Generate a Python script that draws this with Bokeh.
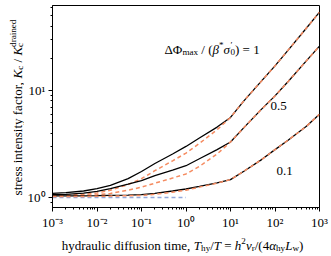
import math
from bokeh.plotting import figure
from bokeh.models import Label, FixedTicker, CustomJSTickFormatter
from bokeh.layouts import row, column
from bokeh.embed import file_html
from bokeh.resources import INLINE

# ---- data ----
t_hy = [1e-3, 2e-3, 5e-3, 1e-2, 2e-2, 5e-2, 0.1, 0.2, 0.5, 1, 2, 5, 10, 20, 50, 100, 200, 500, 1000]

exact_1 = [1.09, 1.11, 1.15, 1.21, 1.30, 1.50, 1.75, 2.08, 2.55, 3.00, 3.60, 4.55, 5.60,
           8.0, 12.3, 17.0, 24.0, 38.0, 54.0]
approx_1 = [1.04, 1.05, 1.07, 1.10, 1.17, 1.32, 1.50, 1.78, 2.20, 2.60, 3.20, 4.30, 5.60,
            8.0, 12.3, 17.0, 24.0, 38.0, 54.0]

exact_05 = [1.06, 1.07, 1.10, 1.14, 1.21, 1.33, 1.44, 1.60, 1.80, 1.98, 2.30, 2.80, 3.30,
            4.5, 6.7, 8.9, 12.2, 18.8, 26.0]
approx_05 = [1.03, 1.035, 1.045, 1.06, 1.09, 1.17, 1.25, 1.36, 1.52, 1.66, 1.95, 2.55, 3.30,
             4.5, 6.7, 8.9, 12.2, 18.8, 26.0]

exact_01 = [1.035, 1.035, 1.037, 1.04, 1.045, 1.053, 1.062, 1.09, 1.15, 1.20, 1.27, 1.37, 1.47,
            1.76, 2.26, 2.8, 3.45, 4.6, 6.0]
approx_01 = [1.02, 1.021, 1.023, 1.026, 1.03, 1.038, 1.047, 1.07, 1.12, 1.17, 1.25, 1.36, 1.47,
             1.76, 2.26, 2.8, 3.45, 4.6, 6.0]

drained_x = [1e-3, 1.0]
drained_y = [1.0, 1.0]

curve_labels = ["1", "0.5", "0.1"]

x_major = [1e-3, 1e-2, 1e-1, 1, 10, 100, 1000]
y_major = [1, 10]

BLACK = "black"
ORANGE = "#f58b60"
BLUE = "#93a9da"
FONT = "Liberation Serif"

p = figure(width=307, height=232, x_axis_type="log", y_axis_type="log",
           x_range=(1e-3, 1e3), y_range=(0.806, 62.3),
           output_backend="svg", toolbar_location=None,
           min_border_left=26, min_border_right=12, min_border_top=5, min_border_bottom=25)

p.grid.visible = False
p.outline_line_color = "black"
p.outline_line_width = 1
p.background_fill_color = "white"
p.border_fill_color = "white"

x_minor = [m * 10.0 ** e for e in range(-3, 3) for m in range(2, 10)]
y_minor = [0.9] + [m * 10.0 ** e for e in range(0, 2) for m in range(2, 10) if m * 10.0 ** e < 62]
p.xaxis.ticker = FixedTicker(ticks=x_major, minor_ticks=x_minor)
p.yaxis.ticker = FixedTicker(ticks=y_major, minor_ticks=y_minor)

fmt = CustomJSTickFormatter(code="""
const sup = {"-":"\u207b","0":"\u2070","1":"\u00b9","2":"\u00b2","3":"\u00b3","4":"\u2074","5":"\u2075","6":"\u2076","7":"\u2077","8":"\u2078","9":"\u2079"};
const e = Math.round(Math.log10(tick));
return "10" + String(e).split("").map(c => sup[c]).join("");
""")
for ax in (p.xaxis[0], p.yaxis[0]):
    ax.formatter = fmt
    ax.major_label_text_font = FONT
    ax.major_label_text_font_size = "13px"
    ax.major_label_text_color = "black"
    ax.axis_line_color = "black"
    ax.major_tick_line_color = "black"
    ax.minor_tick_line_color = "black"
    ax.major_tick_out = 4
    ax.major_tick_in = 0
    ax.minor_tick_out = 2
    ax.minor_tick_in = 0
    ax.major_label_standoff = 3

# ---- curves ----
p.line(drained_x, drained_y, line_color=BLUE, line_width=1.5, line_dash="4 3")
for ex, ap in ((exact_1, approx_1), (exact_05, approx_05), (exact_01, approx_01)):
    p.line(t_hy, ex, line_color=BLACK, line_width=1.3)
    p.line(t_hy, ap, line_color=ORANGE, line_width=1.5, line_dash="4 3")


def text_panel(w, h, left, right, top, bottom):
    f = figure(width=w, height=h, x_range=(0, 1), y_range=(0, 1),
               min_border_left=left, min_border_right=right,
               min_border_top=top, min_border_bottom=bottom,
               toolbar_location=None, x_axis_location=None, y_axis_location=None,
               output_backend="svg")
    f.grid.visible = False
    f.outline_line_color = None
    f.background_fill_color = "white"
    f.border_fill_color = "white"
    return f


# frames of the text panels line up with the main plot frame (page x 50..319, y 5..207)
ylab = text_panel(24, 256, 0, 0, 5, 49)
xlab = text_panel(307, 24, 26, 12, 0, 0)

# ---- rich text helper (Times metrics) ----
W_R = {' ': .25, ',': .25, '.': .25, '/': .278, '(': .333, ')': .333, '=': .564, '*': .5,
       'a': .444, 'b': .5, 'c': .444, 'd': .5, 'e': .444, 'f': .333, 'g': .5, 'h': .5, 'i': .278,
       'l': .278, 'm': .778, 'n': .5, 'o': .5, 'r': .333, 's': .389, 't': .278, 'u': .5, 'v': .5,
       'w': .722, 'x': .5, 'y': .5, 'Δ': .612, 'Φ': .763, '′': .3}
W_I = {'T': .556, 'K': .667, 'L': .556, 'h': .5, 'v': .444, 'c': .444, 'α': .53, 'β': .5, 'σ': .53}


def text_w(s, italic):
    tbl = W_I if italic else W_R
    return sum(tbl.get(ch, W_R.get(ch, .5)) for ch in s)


def rich(fig, parts, x, y, size, angle=0.0, align="left"):
    items = []
    total = 0.0
    for part in parts:
        txt, kind = part[0], part[1]
        adv = part[2] if len(part) > 2 else True
        italic = kind in ("i", "isub", "isup")
        scale = 0.7 if kind in ("sub", "sup", "isub", "isup") else 1.0
        shift = -0.2 if kind in ("sub", "isub") else (0.38 if kind in ("sup", "isup") else 0.0)
        w = text_w(txt, italic) * size * scale
        lead = len(txt) - len(txt.lstrip(" "))
        lead_w = lead * W_R[' '] * size * scale
        items.append((txt.strip(" "), italic, scale, shift, total + lead_w))
        if adv:
            total += w
    off = -total / 2 if align == "center" else 0.0
    ca, sa = math.cos(angle), math.sin(angle)
    for txt, italic, scale, shift, pos in items:
        d = pos + off
        h = shift * size
        lx = x + d * ca - h * sa
        ly = y + d * sa + h * ca
        fig.add_layout(Label(x=lx, y=ly, x_units="screen", y_units="screen", text=txt,
                             text_font=FONT, text_font_size=f"{size * scale:.1f}px",
                             text_font_style="italic" if italic else "normal",
                             text_color="black", angle=angle,
                             text_baseline="alphabetic", text_align="left"))


# x axis label: centre page x 180, baseline page y 245 (frame: x from 50, bottom at 256)
rich(xlab, [("hydraulic diffusion time, ", "r"), ("T", "i"), ("hy", "sub"), ("/", "r"), ("T", "i"),
            (" = ", "r"), ("h", "i"), ("2", "sup"), ("v", "i"), ("r", "sub"), ("/(4", "r"),
            ("α", "i"), ("hy", "sub"), ("L", "i"), ("w", "sub"), (")", "r")],
     130, 11, 13, align="center")

# y axis label: baseline page x 17, centre page y 107 (frame: x from 0, bottom at 207)
rich(ylab, [("stress intensity factor, ", "r"), ("K", "i"), ("c", "sub"), (" / ", "r"), ("K", "i"),
            ("c", "sub", False), ("drained", "sup")],
     17, 100, 13, angle=math.pi / 2, align="center")

# curve annotations (screen units relative to the plot frame)
rich(p, [("ΔΦ", "r"), ("max", "sub"), (" / (", "r"), ("β", "i"), ("*", "sup"), ("σ", "i"),
         ("′", "sup", False), ("0", "sub"), (") = " + curve_labels[0], "r")],
     112, 158, 13)
rich(p, [(curve_labels[1], "r")], 218, 102, 13)
rich(p, [(curve_labels[2], "r")], 224, 37, 13)

layout = row(ylab, column(p, xlab, spacing=0), spacing=0)

with open("out.html", "w", encoding="utf-8") as f:
    f.write(file_html(layout, INLINE))
